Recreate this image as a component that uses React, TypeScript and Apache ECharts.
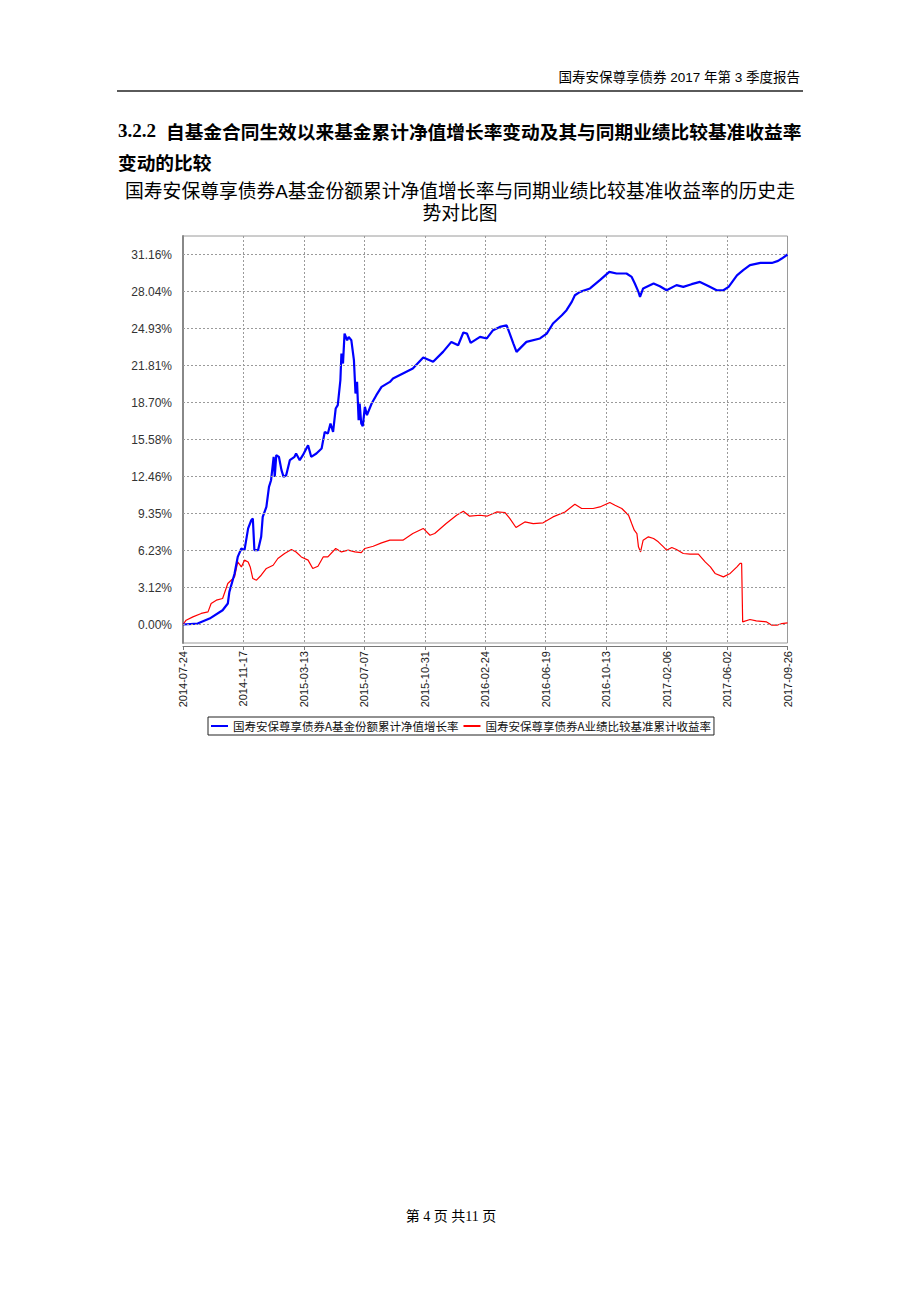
import React, { useEffect, useRef } from "react";
import * as echarts from "echarts";

// ---------- data ----------
const startDate = "2014-07-24";
const xTickLabels = [
  "2014-07-24", "2014-11-17", "2015-03-13", "2015-07-07", "2015-10-31", "2016-02-24",
  "2016-06-19", "2016-10-13", "2017-02-06", "2017-06-02", "2017-09-26",
];
const xTickStepDays = 116;

const yTickLabels = [
  "0.00%", "3.12%", "6.23%", "9.35%", "12.46%", "15.58%",
  "18.70%", "21.81%", "24.93%", "28.04%", "31.16%",
];
const yTickValues = [0, 3.116, 6.232, 9.348, 12.464, 15.58, 18.696, 21.812, 24.928, 28.044, 31.16];
const yStep = 3.116;

// days since start date (2014-07-24), cumulative NAV growth (%)
const navDays = [
  0, 28, 51, 76, 86, 89, 99, 105, 112, 118, 125, 131, 134, 137, 144, 150, 153, 160, 165, 169,
  174, 176, 179, 184, 189, 193, 198, 205, 214, 217, 224, 230, 240, 246, 256, 266, 272, 278, 283, 288,
  293, 297, 302, 304, 307, 310, 315, 318, 323, 328, 331, 334, 337, 339, 342, 345, 349, 353, 362, 371,
  381, 397, 403, 422, 441, 461, 480, 499, 515, 528, 538, 545, 552, 570, 583, 595, 608, 621, 627, 634,
  640, 659, 685, 698, 710, 727, 736, 746, 752, 762, 781, 800, 818, 832, 851, 861, 867, 874, 877, 883,
  903, 915, 928, 947, 960, 976, 992, 1008, 1024, 1037, 1047, 1063, 1075, 1088, 1108, 1130, 1142, 1149, 1160,
];
const navValues = [
  0, 0.08, 0.5, 1.2, 1.77, 2.75, 4.3, 5.69, 6.4, 6.26, 8.09, 8.78, 8.93, 6.26, 6.26, 7.38, 9.06, 9.9, 11.59, 12.15,
  14.12, 12.43, 14.26, 14.12, 13.0, 12.43, 12.57, 13.84, 14.12, 14.4, 13.84, 14.26, 15.1, 14.12, 14.4, 14.82, 16.22, 16.09, 16.93, 16.22,
  18.19, 18.47, 20.57, 22.82, 21.98, 24.5, 23.94, 24.22, 23.94, 22.26, 19.45, 20.43, 17.2, 18.61, 16.93, 16.7, 18.33, 17.63, 18.61, 19.31,
  20.01, 20.43, 20.72, 21.14, 21.56, 22.49, 22.12, 22.96, 23.8, 23.52, 24.59, 24.5, 23.72, 24.22, 24.09, 24.79, 25.06, 25.2, 24.5, 23.66,
  22.96, 23.8, 24.09, 24.5, 25.35, 26.05, 26.47, 27.17, 27.73, 28.01, 28.3, 29.0, 29.7, 29.56, 29.56, 29.27, 28.72, 28.01, 27.59, 28.3,
  28.72, 28.49, 28.15, 28.58, 28.43, 28.66, 28.85, 28.51, 28.15, 28.15, 28.43, 29.41, 29.84, 30.26, 30.45, 30.45, 30.62, 30.82, 31.16,
];

// days since start date, benchmark cumulative return (%)
const benchDays = [
  0, 6, 19, 35, 48, 54, 64, 76, 86, 96, 99, 105, 112, 118, 125, 129, 134, 141, 150, 160,
  173, 182, 195, 208, 217, 227, 240, 249, 259, 269, 278, 293, 304, 317, 330, 342, 349, 365, 381, 397,
  422, 441, 461, 474, 483, 505, 525, 538, 550, 570, 583, 602, 618, 627, 639, 656, 672, 691, 710, 733,
  752, 765, 787, 800, 819, 829, 842, 855, 861, 866, 871, 874, 878, 883, 893, 903, 912, 922, 928, 938,
  947, 960, 973, 989, 1002, 1012, 1021, 1037, 1050, 1063, 1069, 1072, 1074, 1088, 1100, 1120, 1130, 1140, 1149, 1160,
];
const benchValues = [
  0, 0.36, 0.64, 0.93, 1.06, 1.77, 2.05, 2.19, 3.45, 3.87, 4.01, 5.27, 4.85, 5.42, 5.27, 4.85, 3.87, 3.73, 4.15, 4.72,
  4.99, 5.56, 5.98, 6.32, 6.11, 5.69, 5.42, 4.72, 4.91, 5.69, 5.69, 6.4, 6.11, 6.26, 6.11, 6.06, 6.4, 6.59, 6.87, 7.1,
  7.1, 7.66, 8.09, 7.52, 7.66, 8.5, 9.2, 9.54, 9.12, 9.2, 9.12, 9.48, 9.43, 8.93, 8.17, 8.64, 8.5, 8.56, 9.06, 9.48,
  10.13, 9.77, 9.77, 9.9, 10.27, 10.05, 9.77, 9.2, 8.5, 7.94, 7.66, 6.54, 6.11, 7.1, 7.38, 7.24, 6.96, 6.54, 6.26, 6.49,
  6.32, 5.98, 5.92, 5.92, 5.27, 4.85, 4.3, 4.01, 4.3, 4.85, 5.14, 5.14, 0.22, 0.42, 0.3, 0.22, -0.06, -0.06, 0.08, 0.13,
];

const seriesNames = ["国寿安保尊享债券A基金份额累计净值增长率", "国寿安保尊享债券A业绩比较基准累计收益率"];

const headerText = "国寿安保尊享债券 2017 年第 3 季度报告";
const sectionNo = "3.2.2";
const sectionLine1 = "自基金合同生效以来基金累计净值增长率变动及其与同期业绩比较基准收益率";
const sectionLine2 = "变动的比较";
const titleLine1 = "国寿安保尊享债券A基金份额累计净值增长率与同期业绩比较基准收益率的历史走";
const titleLine2 = "势对比图";
const footerText = "第 4 页 共11 页";

// ---------- chart ----------
const CJK = '"Noto Sans CJK SC", sans-serif';
const LATIN = '"Liberation Sans", "Noto Sans CJK SC", sans-serif';

function buildOption(): any {
  const halfStep = yStep / 2;
  const nav = navDays.map((d, i) => [d, navValues[i]]);
  const bench = benchDays.map((d, i) => [d, benchValues[i]]);
  const gridLineStyle = { color: "#9a9a9a", width: 1, type: [2, 2] };
  return {
    animation: false,
    backgroundColor: "#ffffff",
    grid: {
      left: 183,
      right: 132.5,
      top: 236,
      bottom: 659,
      show: true,
      borderColor: "#9a9a9a",
      borderWidth: 1,
      containLabel: false,
    },
    legend: {
      data: seriesNames,
      left: 208,
      top: 717,
      orient: "horizontal",
      icon: "rect",
      itemWidth: 17,
      itemHeight: 2,
      itemGap: 5,
      padding: [2, 3, 2, 3],
      borderColor: "#222",
      borderWidth: 1,
      textStyle: { fontFamily: CJK, fontSize: 11.5, color: "#111", lineHeight: 14 },
      selectedMode: false,
    },
    xAxis: {
      type: "value",
      min: 0,
      max: xTickStepDays * (xTickLabels.length - 1),
      interval: xTickStepDays,
      offset: 3,
      axisLine: { show: true, onZero: false, lineStyle: { color: "#777", width: 1 } },
      axisTick: { show: true, length: 4, lineStyle: { color: "#777" } },
      axisLabel: {
        rotate: 90,
        margin: 5,
        fontSize: 11,
        fontFamily: LATIN,
        color: "#1a1a1a",
        formatter: (v: number) => xTickLabels[Math.round(v / xTickStepDays)] ?? "",
      },
      splitLine: { show: true, lineStyle: gridLineStyle },
    },
    yAxis: {
      type: "value",
      min: -halfStep,
      max: halfStep * 21,
      interval: halfStep,
      axisLine: { show: true, onZero: false, lineStyle: { color: "#888", width: 2 } },
      axisTick: { show: false },
      axisLabel: {
        margin: 11,
        fontSize: 12,
        fontFamily: LATIN,
        color: "#333",
        formatter: (v: number) => {
          const k = Math.round(v / halfStep);
          if (k < 0 || k % 2 !== 0) return "";
          return yTickLabels[k / 2] ?? "";
        },
      },
      splitLine: { show: false },
    },
    series: [
      {
        name: "grid",
        type: "line",
        data: [[0, 0]],
        symbol: "none",
        lineStyle: { opacity: 0 },
        z: 1,
        silent: true,
        markLine: {
          silent: true,
          symbol: ["none", "none"],
          label: { show: false },
          lineStyle: gridLineStyle,
          data: yTickValues.map((v) => ({ yAxis: v })),
        },
      },
      {
        name: seriesNames[0],
        type: "line",
        data: nav,
        symbol: "none",
        color: "#0000ff",
        lineStyle: { color: "#0000ff", width: 2.2 },
        z: 4,
      },
      {
        name: seriesNames[1],
        type: "line",
        data: bench,
        symbol: "none",
        color: "#ff0000",
        lineStyle: { color: "#ff0000", width: 1.2 },
        z: 3,
      },
    ],
    graphic: [
      {
        type: "text",
        x: 800,
        y: 77,
        style: { text: headerText, font: `13.5px ${LATIN}`, fill: "#000", align: "right", verticalAlign: "middle" },
      },
      { type: "rect", shape: { x: 117, y: 90, width: 686, height: 2 }, style: { fill: "#5a5a5a" } },
      {
        type: "text",
        x: 118,
        y: 130,
        style: { text: sectionNo, font: `bold 19px "Liberation Serif", serif`, fill: "#000", align: "left", verticalAlign: "middle" },
      },
      {
        type: "text",
        x: 166,
        y: 130,
        style: { text: sectionLine1, font: `bold 18.7px ${CJK}`, fill: "#000", align: "left", verticalAlign: "middle" },
      },
      {
        type: "text",
        x: 118,
        y: 161,
        style: { text: sectionLine2, font: `bold 18.7px ${CJK}`, fill: "#000", align: "left", verticalAlign: "middle" },
      },
      {
        type: "text",
        x: 460,
        y: 191,
        style: { text: titleLine1, font: `18.8px ${LATIN}`, fill: "#000", align: "center", verticalAlign: "middle" },
      },
      {
        type: "text",
        x: 460,
        y: 213.5,
        style: { text: titleLine2, font: `18.8px ${LATIN}`, fill: "#000", align: "center", verticalAlign: "middle" },
      },
      {
        type: "text",
        x: 451,
        y: 1216,
        style: { text: footerText, font: `14px "Liberation Serif", ${CJK}`, fill: "#000", align: "center", verticalAlign: "middle" },
      },
    ],
  };
}

export default function App() {
  const ref = useRef<HTMLDivElement>(null);
  useEffect(() => {
    if (!ref.current) return;
    const chart = echarts.init(ref.current, null, { renderer: "svg" });
    chart.setOption(buildOption());
    return () => chart.dispose();
  }, []);
  return (
    <div
      ref={ref}
      data-start={startDate}
      style={{ position: "absolute", left: 0, top: 0, width: 920, height: 1302, background: "#fff" }}
    />
  );
}
